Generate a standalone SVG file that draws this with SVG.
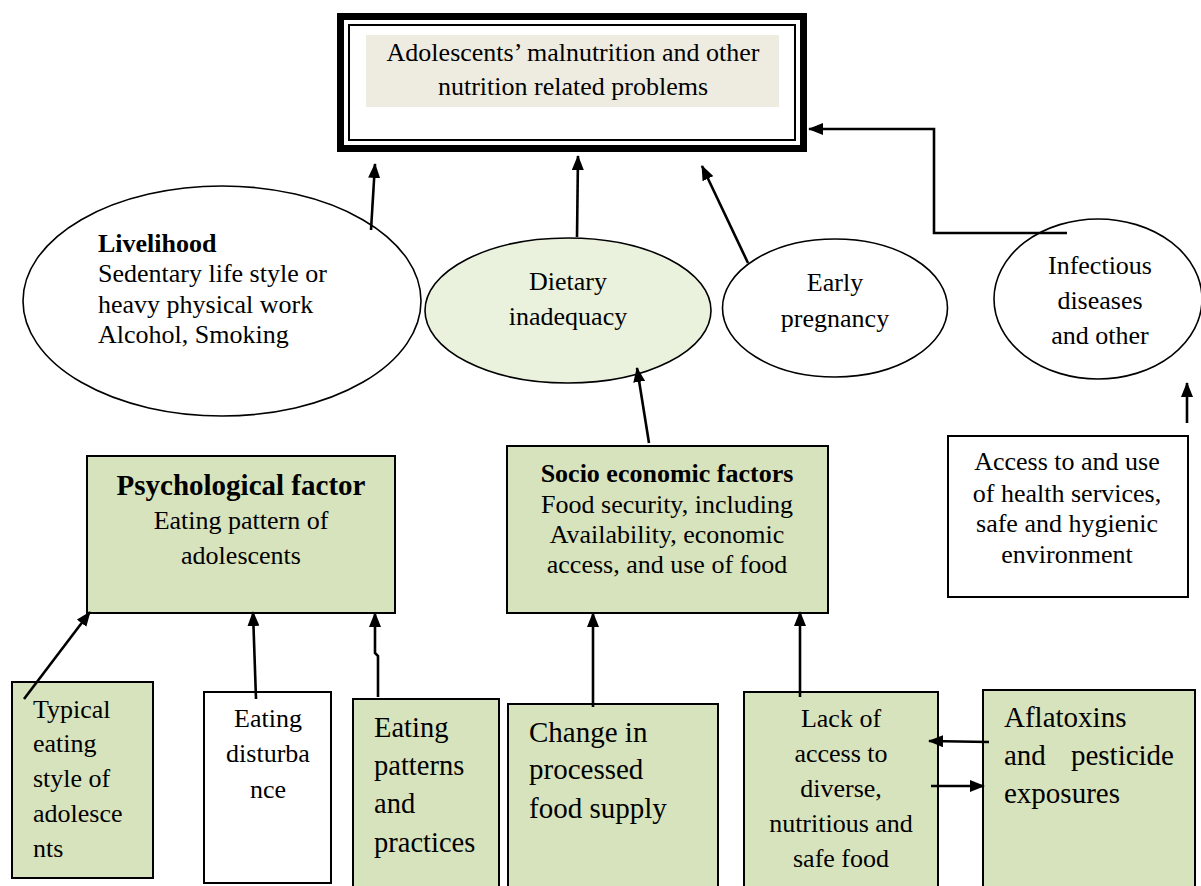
<svg xmlns="http://www.w3.org/2000/svg" width="1201" height="886" viewBox="0 0 1201 886">
<style>
text{font-family:"Liberation Serif","Times New Roman",serif;fill:#000;font-size:26px}
.c{text-anchor:middle}
.b{font-weight:bold}
.box{stroke:#000;stroke-width:2}
.g{fill:#d7e3bc}
.w{fill:#fff}
.ell{stroke:#000;stroke-width:1.6}
.con{fill:none;stroke:#000;stroke-width:2.6}
</style>
<defs>
<marker id="ah" viewBox="0 0 15 12" refX="14" refY="6" markerWidth="15" markerHeight="12" markerUnits="userSpaceOnUse" orient="auto">
<path d="M0,0 L15,6 L0,12 z" fill="#000"/>
</marker>
</defs>
<rect width="1201" height="886" fill="#fff"/>

<g id="top">
<rect x="340.5" y="16.5" width="463" height="132" fill="#fff" stroke="#000" stroke-width="7"/>
<rect x="349" y="25" width="446" height="115" fill="none" stroke="#000" stroke-width="2"/>
<rect x="366" y="35" width="413" height="72" fill="#eeece1"/>
<text class="c" x="573" y="61">Adolescents’ malnutrition and other</text>
<text class="c" x="573" y="95">nutrition related problems</text>
</g>

<g id="livelihood">
<ellipse class="ell" cx="222" cy="301" rx="199" ry="115" fill="#fff"/>
<text class="b" x="98" y="252">Livelihood</text>
<text x="98" y="282">Sedentary life style or</text>
<text x="98" y="313">heavy physical work</text>
<text x="98" y="343">Alcohol, Smoking</text>
</g>

<g id="dietary">
<ellipse class="ell" cx="568" cy="310.5" rx="143" ry="72.5" fill="#eaf1dd"/>
<text class="c" x="568" y="290">Dietary</text>
<text class="c" x="568" y="325">inadequacy</text>
</g>

<g id="early">
<ellipse class="ell" cx="835" cy="308" rx="112.5" ry="69" fill="#fff"/>
<text class="c" x="835" y="291">Early</text>
<text class="c" x="835" y="327">pregnancy</text>
</g>

<g id="infectious">
<ellipse class="ell" cx="1098" cy="299" rx="104" ry="80" fill="#fff"/>
<text class="c" x="1100" y="274">Infectious</text>
<text class="c" x="1100" y="309">diseases</text>
<text class="c" x="1100" y="344">and other</text>
</g>

<g id="psychological">
<rect class="box g" x="87" y="456" width="308" height="157"/>
<text class="c b" x="241" y="495" style="font-size:29px">Psychological factor</text>
<text class="c" x="241" y="529">Eating pattern of</text>
<text class="c" x="241" y="564">adolescents</text>
</g>

<g id="socio">
<rect class="box g" x="507" y="446" width="321" height="167"/>
<text class="c b" x="667" y="482">Socio economic factors</text>
<text class="c" x="667" y="513">Food security, including</text>
<text class="c" x="667" y="543">Availability, economic</text>
<text class="c" x="667" y="573">access, and use of food</text>
</g>

<g id="access">
<rect class="box w" x="948" y="436" width="240" height="161"/>
<text class="c" x="1067" y="470">Access to and use</text>
<text class="c" x="1067" y="502">of health services,</text>
<text class="c" x="1067" y="532">safe and hygienic</text>
<text class="c" x="1067" y="563">environment</text>
</g>

<g id="typical">
<rect class="box g" x="12" y="682" width="141" height="196"/>
<text x="33" y="718">Typical</text>
<text x="33" y="752">eating</text>
<text x="33" y="787">style of</text>
<text x="33" y="822">adolesce</text>
<text x="33" y="857">nts</text>
</g>

<g id="disturbance">
<rect class="box w" x="204" y="692" width="127" height="191"/>
<text class="c" x="268" y="727">Eating</text>
<text class="c" x="268" y="762">disturba</text>
<text class="c" x="268" y="798">nce</text>
</g>

<g id="patterns">
<rect class="box g" x="353" y="699" width="146" height="200"/>
<text x="374" y="737" style="font-size:28.5px">Eating</text>
<text x="374" y="775" style="font-size:28.5px">patterns</text>
<text x="374" y="813" style="font-size:28.5px">and</text>
<text x="374" y="852" style="font-size:28.5px">practices</text>
</g>

<g id="change">
<rect class="box g" x="508" y="704" width="210" height="195"/>
<text x="529" y="742" style="font-size:29px">Change in</text>
<text x="529" y="779" style="font-size:29px">processed</text>
<text x="529" y="818" style="font-size:29px">food supply</text>
</g>

<g id="lack">
<rect class="box g" x="744" y="692" width="194" height="207"/>
<text class="c" x="841" y="727">Lack of</text>
<text class="c" x="841" y="762">access to</text>
<text class="c" x="841" y="797">diverse,</text>
<text class="c" x="841" y="832">nutritious and</text>
<text class="c" x="841" y="867">safe food</text>
</g>

<g id="aflatoxins">
<rect class="box g" x="983" y="690" width="212" height="209"/>
<text x="1004" y="727" style="font-size:29px">Aflatoxins</text>
<text y="765" style="font-size:29px"><tspan x="1004">and</tspan><tspan x="1174" text-anchor="end">pesticide</tspan></text>
<text x="1004" y="803" style="font-size:29px">exposures</text>
</g>

<g id="connectors">
<path class="con" d="M371,230 L375,164" marker-end="url(#ah)"/>
<path class="con" d="M577,237 L578,156" marker-end="url(#ah)"/>
<path class="con" d="M748,263 L702,166" marker-end="url(#ah)"/>
<path class="con" d="M1067,233 L934,233 L934,129 L809,129" marker-end="url(#ah)"/>
<path class="con" d="M649,443 L637,368" marker-end="url(#ah)"/>
<path class="con" d="M1187,423 L1187,383" marker-end="url(#ah)"/>
<path class="con" d="M24,699 L90,612" marker-end="url(#ah)"/>
<path class="con" d="M256,699 L253,612" marker-end="url(#ah)"/>
<path class="con" d="M378,697 L378,656 L375,653 L375,613" marker-end="url(#ah)"/>
<path class="con" d="M593,707 L593,613" marker-end="url(#ah)"/>
<path class="con" d="M800,697 L800,612" marker-end="url(#ah)"/>
<path class="con" d="M989,742 L929,741" marker-end="url(#ah)"/>
<path class="con" d="M931,786 L984,786" marker-end="url(#ah)"/>
</g>
</svg>
